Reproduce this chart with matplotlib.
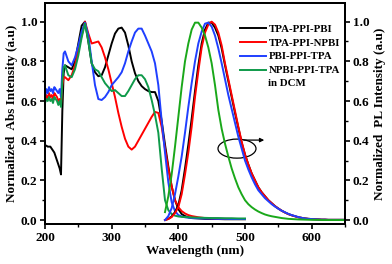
import matplotlib
matplotlib.use("Agg")
import matplotlib.pyplot as plt
from matplotlib.patches import Ellipse

plt.rcParams['font.family'] = ['Liberation Serif', 'DejaVu Serif']
plt.rcParams['font.weight'] = 'bold'

# ---------------- data ----------------
abs_wl = [200, 202, 204, 206, 208, 210, 212, 214, 216, 218, 220, 222, 224, 226, 228, 230,
          235, 240, 245, 250, 255, 260, 265, 270, 275, 280, 285, 290, 295, 300, 305, 310,
          315, 320, 325, 330, 335, 340, 345, 350, 355, 360, 365, 370, 375, 380, 385, 390,
          395, 400, 405, 410, 415, 420, 430, 440, 450, 460, 470, 480, 490, 500]

abs_black = [0.375, 0.375, 0.37, 0.37, 0.37, 0.36, 0.35, 0.34, 0.32, 0.30, 0.28, 0.26, 0.23, 0.55, 0.74, 0.78,
             0.77, 0.76, 0.80, 0.89, 0.98, 1.0, 0.90, 0.79, 0.745, 0.725, 0.73, 0.77, 0.83, 0.89, 0.94, 0.965,
             0.97, 0.945, 0.88, 0.80, 0.74, 0.70, 0.675, 0.66, 0.65, 0.645, 0.645, 0.60, 0.50, 0.38, 0.27, 0.17,
             0.10, 0.055, 0.03, 0.02, 0.014, 0.01, 0.008, 0.006, 0.005, 0.005, 0.004, 0.004, 0.004, 0.004]

abs_red = [0.60, 0.63, 0.61, 0.64, 0.62, 0.63, 0.61, 0.64, 0.63, 0.62, 0.60, 0.61, 0.58, 0.68, 0.72, 0.72,
           0.705, 0.73, 0.78, 0.86, 0.93, 1.0, 0.94, 0.89, 0.895, 0.90, 0.87, 0.82, 0.76, 0.69, 0.62, 0.54,
           0.47, 0.41, 0.37, 0.355, 0.37, 0.40, 0.43, 0.46, 0.49, 0.52, 0.545, 0.54, 0.47, 0.36, 0.26, 0.17,
           0.10, 0.065, 0.045, 0.033, 0.025, 0.02, 0.014, 0.01, 0.008, 0.007, 0.006, 0.006, 0.005, 0.005]

abs_blue = [0.62, 0.66, 0.64, 0.67, 0.65, 0.66, 0.64, 0.67, 0.66, 0.65, 0.64, 0.66, 0.62, 0.76, 0.84, 0.85,
            0.80, 0.78, 0.82, 0.88, 0.95, 0.995, 0.93, 0.80, 0.68, 0.61, 0.605, 0.62, 0.645, 0.68, 0.70, 0.72,
            0.745, 0.79, 0.85, 0.90, 0.945, 0.965, 0.965, 0.93, 0.89, 0.85, 0.79, 0.68, 0.50, 0.34, 0.19, 0.09,
            0.045, 0.025, 0.018, 0.014, 0.012, 0.01, 0.009, 0.008, 0.007, 0.006, 0.006, 0.005, 0.005, 0.005]

abs_green = [0.59, 0.61, 0.60, 0.62, 0.60, 0.61, 0.59, 0.62, 0.61, 0.60, 0.58, 0.60, 0.57, 0.70, 0.77, 0.78,
             0.73, 0.72, 0.76, 0.83, 0.92, 0.99, 0.90, 0.79, 0.76, 0.75, 0.72, 0.69, 0.67, 0.65, 0.655, 0.64,
             0.625, 0.625, 0.65, 0.68, 0.71, 0.73, 0.73, 0.71, 0.67, 0.605, 0.53, 0.44, 0.26, 0.10, 0.05, 0.03,
             0.022, 0.018, 0.016, 0.015, 0.014, 0.013, 0.012, 0.011, 0.01, 0.01, 0.009, 0.009, 0.008, 0.008]

pl_wl = [380, 385, 390, 395, 400, 405, 410, 415, 420, 425, 430, 435, 440, 445, 450, 455, 460, 465,
         470, 475, 480, 485, 490, 495, 500, 505, 510, 515, 520, 525, 530, 535, 540, 545, 550, 555,
         560, 565, 570, 575, 580, 585, 590, 595, 600, 605, 610, 615, 620, 625, 630, 635, 640, 645, 650]

pl_black = [0.0, 0.006, 0.018, 0.04, 0.075, 0.15, 0.26, 0.38, 0.51, 0.65, 0.78, 0.89, 0.96, 0.995, 0.995, 0.97, 0.93, 0.865,
            0.78, 0.70, 0.62, 0.54, 0.465, 0.39, 0.33, 0.28, 0.235, 0.2, 0.165, 0.14, 0.12, 0.1, 0.085, 0.07, 0.058, 0.047,
            0.038, 0.03, 0.024, 0.019, 0.014, 0.011, 0.008, 0.006, 0.005, 0.004, 0.003, 0.002, 0.002, 0.001, 0.001, 0.001, 0.001, 0.001, 0.001]

pl_red = [0.0, 0.005, 0.015, 0.035, 0.065, 0.13, 0.23, 0.34, 0.47, 0.62, 0.75, 0.87, 0.945, 0.985, 1.0, 0.985, 0.945, 0.88,
          0.79, 0.71, 0.63, 0.55, 0.47, 0.395, 0.33, 0.28, 0.235, 0.2, 0.165, 0.14, 0.12, 0.1, 0.085, 0.07, 0.058, 0.047,
          0.038, 0.03, 0.024, 0.019, 0.014, 0.011, 0.008, 0.006, 0.005, 0.004, 0.003, 0.002, 0.002, 0.001, 0.001, 0.001, 0.001, 0.001, 0.001]

pl_blue = [0.0, 0.02, 0.06, 0.13, 0.22, 0.32, 0.44, 0.57, 0.69, 0.80, 0.89, 0.95, 0.99, 0.995, 0.975, 0.93, 0.865, 0.79,
           0.71, 0.63, 0.56, 0.49, 0.42, 0.36, 0.30, 0.255, 0.215, 0.18, 0.15, 0.13, 0.11, 0.095, 0.08, 0.068, 0.057, 0.047,
           0.039, 0.031, 0.025, 0.02, 0.015, 0.011, 0.008, 0.006, 0.005, 0.004, 0.003, 0.002, 0.002, 0.001, 0.001, 0.001, 0.001, 0.001, 0.001]

pl_green = [0.04, 0.12, 0.23, 0.37, 0.52, 0.67, 0.80, 0.89, 0.96, 0.995, 0.995, 0.97, 0.93, 0.87, 0.79, 0.68, 0.555, 0.46,
            0.385, 0.32, 0.26, 0.21, 0.165, 0.13, 0.10, 0.08, 0.065, 0.053, 0.043, 0.035, 0.028, 0.023, 0.019, 0.016, 0.013, 0.01,
            0.008, 0.006, 0.005, 0.004, 0.003, 0.0025, 0.002, 0.0015, 0.001, 0.001, 0.001, 0.0, 0.0, 0.0, 0.0, 0.0, 0.0, 0.0, 0.0]

labels = ['TPA-PPI-PBI', 'TPA-PPI-NPBI', 'PBI-PPI-TPA', 'NPBI-PPI-TPA']
colors = ['#000000', '#ff0000', '#1f3fff', '#0f9a4a']
pl_green_color = '#1aa81a'

# ---------------- figure ----------------
fig = plt.figure(figsize=(3.92, 2.64), dpi=100)
ax = fig.add_axes([0.1148, 0.1515, 0.7653, 0.8371])
ax2 = ax.twinx()

lw = 1.4
handles = []
for y, c, lab in zip([abs_black, abs_red, abs_blue, abs_green], colors, labels):
    h, = ax.plot(abs_wl, y, color=c, lw=lw, label=lab)
    handles.append(h)

for y, c in zip([pl_black, pl_red, pl_blue, pl_green], colors[:3] + [pl_green_color]):
    ax2.plot(pl_wl, y, color=c, lw=lw)

for a in (ax, ax2):
    a.set_xlim(200, 650)
    a.set_ylim(-0.02, 1.094)
    a.set_yticks([0.0, 0.2, 0.4, 0.6, 0.8, 1.0])
    a.set_yticks([0.1, 0.3, 0.5, 0.7, 0.9], minor=True)
    for s in a.spines.values():
        s.set_linewidth(1.4)
    a.tick_params(which='major', direction='out', length=3.5, width=1.2, labelsize=9.5, pad=2)
    a.tick_params(which='minor', direction='out', length=2, width=1.0)

ax.set_xticks([200, 300, 400, 500, 600])
ax.set_xticks([250, 350, 450, 550, 650], minor=True)
ax.tick_params(axis='x', which='both', top=False)
ax.yaxis.set_major_formatter(matplotlib.ticker.FormatStrFormatter('%.1f'))
ax2.yaxis.set_major_formatter(matplotlib.ticker.FormatStrFormatter('%.1f'))

ax.set_xlabel('Wavelength (nm)', fontsize=9.5, fontweight='bold', labelpad=1)
ax.set_ylabel('Normalized  Abs Intensity (a.u)', fontsize=9.5, fontweight='bold', labelpad=2)
ax2.set_ylabel('Normalized  PL Intensity (a.u)', fontsize=9.5, fontweight='bold', labelpad=3)

leg = ax2.legend(handles=handles, loc='upper left', bbox_to_anchor=(0.65, 0.905),
                 frameon=False, fontsize=7.8, handlelength=2.4, handletextpad=0.3,
                 labelspacing=0.4, borderpad=0, borderaxespad=0)
for t in leg.get_texts():
    t.set_fontweight('bold')
ax2.text(0.743, 0.638, 'in DCM', transform=ax2.transAxes, fontsize=7.8,
         fontweight='bold', va='center', ha='left')

# ellipse + arrow marking PL curves
ax2.add_patch(Ellipse((488, 0.36), 57, 0.096, fill=False, ec='black', lw=0.9))
ax2.annotate('', xy=(533, 0.403), xytext=(494, 0.403),
             arrowprops=dict(arrowstyle='-|>', color='black', lw=0.9, mutation_scale=6))

fig.savefig('out.png', dpi=100)
